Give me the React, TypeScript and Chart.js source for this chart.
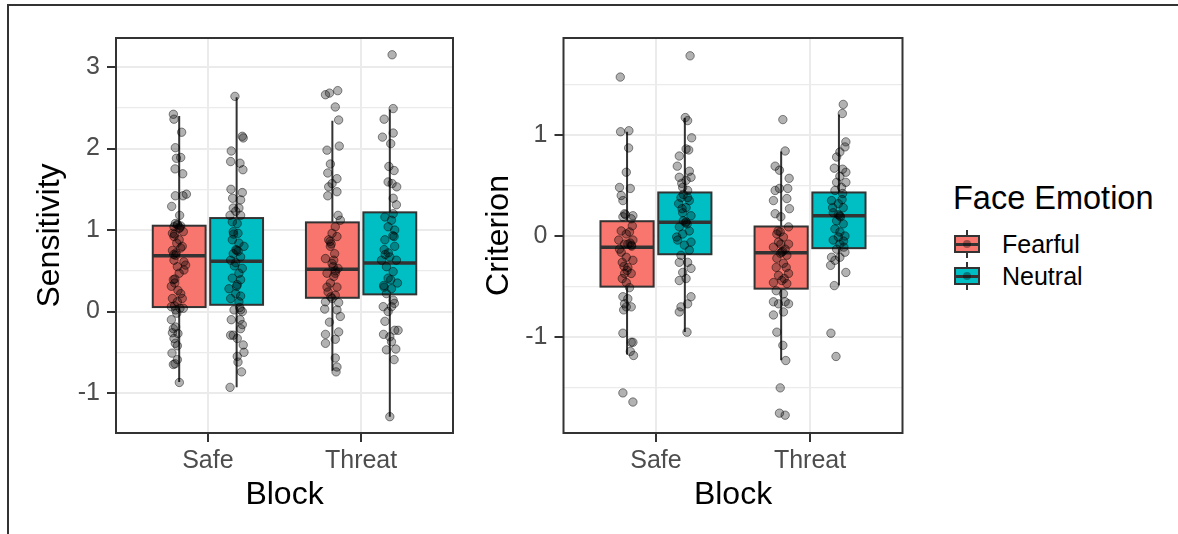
import React, { useEffect, useRef } from "react";
import { Chart, registerables } from "chart.js";

Chart.register(...registerables);

const FONT = "'Liberation Sans', Arial, Helvetica, sans-serif";

// ---------- categories / series ----------
const blocks = ["Safe", "Threat"];
const emotions = ["Fearful", "Neutral"];
const emotionColors = ["#F8766D", "#00BFC4"];
const dodgeOffsets = [-0.1875, 0.1875];
const boxWidth = 0.345;

// ---------- tick values ----------
const sensitivityTicks = [-1, -0.5, 0, 0.5, 1, 1.5, 2, 2.5, 3];
const criterionTicks = [-1.5, -1, -0.5, 0, 0.5, 1, 1.5];

// ---------- box statistics [lower whisker, Q1, median, Q3, upper whisker] ----------
const sensSafeFearfulBox = [-0.865, 0.055, 0.685, 1.053, 2.4];
const sensSafeNeutralBox = [-0.93, 0.083, 0.616, 1.147, 2.628];
const sensThreatFearfulBox = [-0.726, 0.169, 0.518, 1.094, 2.34];
const sensThreatNeutralBox = [-1.29, 0.211, 0.595, 1.217, 2.48];
const critSafeFearfulBox = [-1.17, -0.5, -0.11, 0.146, 1.03];
const critSafeNeutralBox = [-0.948, -0.18, 0.136, 0.43, 1.165];
const critThreatFearfulBox = [-1.227, -0.52, -0.166, 0.094, 0.835];
const critThreatNeutralBox = [-0.49, -0.12, 0.2, 0.43, 1.2];

// ---------- individual observations (values) and their horizontal jitter ----------
const sensSafeFearful = [2.42, 2.36, 2.2, 2.01, 1.88, 1.89, 1.75, 1.69, 1.42, 1.42, 1.44, 1.29, 1.18, 1.08, 1.07, 1.05, 1.04, 1.02, 0.96, 0.92, 0.88, 0.84, 0.75, 0.78, 0.69, 0.61, 0.57, 0.55, 0.63, 0.47, 0.39, 0.35, 0.22, 0.16, 0.16, 0.12, 0.06, 0.04, 0.02, 0.04, -0.1, -0.21, -0.26, -0.27, -0.33, -0.39, -0.42, -0.51, -0.59, -0.65, -0.64, -0.87, 0.8, 0.51, 0.31, 0.26, 0.98, -0.02, -0.19, 1.03, 1.06, 0.95, 0.72, 0.7, 0.4, 0.07];
const sensSafeFearfulJit = [-0.038, -0.034, 0.016, -0.025, -0.018, 0.01, -0.027, 0.023, -0.025, 0.025, 0.047, -0.049, 0.003, -0.025, -0.012, 0.01, -0.034, 0.0, -0.044, -0.034, 0.0, -0.016, -0.044, 0.01, -0.023, 0.031, 0.042, -0.012, -0.034, 0.0, -0.038, -0.029, 0.01, 0.02, -0.044, -0.012, -0.051, 0.005, -0.023, 0.027, -0.051, -0.038, -0.044, -0.008, -0.034, -0.025, -0.012, -0.047, -0.012, -0.038, -0.027, 0.001, 0.02, 0.031, -0.051, -0.008, 0.027, -0.016, -0.023, 0.005, -0.01, -0.03, -0.02, -0.035, -0.028, -0.03];

const sensSafeNeutral = [2.64, 2.15, 2.13, 1.97, 1.84, 1.82, 1.74, 1.5, 1.46, 1.39, 1.37, 1.27, 1.27, 1.23, 1.18, 1.18, 1.1, 1.08, 0.98, 0.96, 0.88, 0.84, 0.75, 0.8, 0.71, 0.67, 0.63, 0.6, 0.53, 0.47, 0.41, 0.39, 0.33, 0.28, 0.22, 0.19, 0.16, 0.12, 0.02, 0.02, 0.0, -0.1, -0.1, -0.16, -0.21, -0.29, -0.29, -0.33, -0.41, -0.5, -0.55, -0.62, -0.74, -0.93, 0.76, 0.74, 0.95, 0.31, 0.56, 0.05];
const sensSafeNeutralJit = [-0.011, 0.037, 0.043, -0.035, -0.039, 0.022, 0.041, -0.037, 0.037, -0.026, 0.026, -0.022, 0.015, -0.006, -0.043, 0.026, -0.028, 0.004, -0.022, 0.009, -0.028, 0.015, 0.0, 0.048, -0.022, 0.026, -0.039, -0.006, 0.037, 0.015, -0.028, 0.026, 0.004, -0.05, -0.006, 0.026, -0.039, 0.015, -0.017, 0.026, 0.037, -0.035, 0.022, 0.037, 0.026, -0.022, -0.039, 0.004, 0.043, 0.048, 0.004, 0.009, 0.032, -0.043, -0.005, 0.01, -0.02, 0.0, -0.015, 0.02];

const sensThreatFearful = [2.66, 2.68, 2.71, 2.51, 2.35, 2.03, 1.98, 1.81, 1.7, 1.63, 1.57, 1.53, 1.47, 1.42, 1.18, 1.12, 1.04, 0.96, 0.88, 0.92, 0.8, 0.71, 0.65, 0.59, 0.53, 0.47, 0.43, 0.35, 0.3, 0.24, 0.2, 0.16, 0.12, 0.11, 0.03, 0.02, -0.06, -0.13, -0.25, -0.28, -0.34, -0.39, -0.57, -0.68, -0.74, 0.63, 0.3, 0.47, 0.86, 0.83, 0.55, 0.5, 0.18];
const sensThreatFearfulJit = [-0.045, -0.019, 0.035, 0.019, 0.041, 0.045, -0.035, -0.013, -0.03, 0.03, -0.002, -0.024, 0.03, -0.03, 0.037, 0.052, 0.019, -0.002, -0.024, 0.03, -0.013, 0.015, -0.045, -0.002, 0.037, -0.035, 0.009, -0.013, 0.03, -0.028, 0.019, -0.002, -0.045, 0.041, -0.05, 0.03, 0.052, -0.019, 0.041, -0.045, 0.019, -0.045, 0.019, 0.03, 0.024, 0.009, -0.035, 0.019, -0.015, -0.008, 0.005, 0.02, -0.01];

const sensThreatNeutral = [3.15, 2.49, 2.36, 2.19, 2.14, 2.06, 1.78, 1.73, 1.59, 1.57, 1.53, 1.39, 1.31, 1.16, 1.12, 0.92, 0.76, 0.8, 0.67, 0.55, 0.49, 0.3, 0.28, 0.35, 0.41, 0.63, 0.63, 0.06, 0.06, -0.12, -0.23, -0.23, -0.28, -0.31, -0.37, -0.47, -0.46, -0.59, -1.29, 1.04, 1.0, 0.88, 0.39, 0.22, 0.14, 0.0, 1.2, 0.93, 0.7, 0.72, 0.32, 0.1];
const sensThreatNeutralJit = [0.015, 0.022, -0.037, 0.022, -0.048, 0.006, -0.006, 0.028, -0.011, 0.015, 0.045, 0.022, 0.043, -0.032, 0.011, 0.028, -0.037, 0.032, 0.0, -0.022, 0.022, -0.037, 0.011, 0.05, -0.011, -0.054, 0.043, -0.043, 0.011, -0.032, 0.032, 0.054, -0.041, 0.0, 0.011, -0.022, 0.039, 0.028, 0.0, -0.011, 0.032, -0.032, 0.006, -0.022, 0.022, -0.011, 0.022, 0.02, -0.03, -0.01, -0.04, 0.03];

const critSafeFearful = [1.57, 1.03, 1.04, 0.87, 0.63, 0.48, 0.47, 0.4, 0.35, 0.22, 0.2, 0.19, 0.1, 0.05, 0.02, -0.04, -0.08, -0.09, -0.04, -0.16, -0.21, -0.26, -0.31, -0.37, -0.37, -0.42, -0.46, -0.51, -0.6, -0.62, -0.67, -0.7, -0.7, -0.73, -0.96, -1.05, -1.05, -1.14, -1.18, -1.55, -1.64, 0.04, -0.13, -0.24, -0.34, 0.17, -0.08, -0.07, -0.1, 0.21, -0.3];
const critSafeFearfulJit = [-0.044, -0.042, 0.012, 0.01, -0.005, -0.049, 0.021, -0.038, -0.027, -0.016, 0.038, -0.027, 0.034, -0.038, -0.005, -0.054, -0.016, 0.027, 0.038, -0.038, -0.005, -0.031, 0.005, -0.016, 0.027, -0.031, -0.005, 0.016, -0.027, 0.005, -0.016, -0.005, 0.027, -0.022, -0.027, 0.027, 0.038, 0.021, 0.042, -0.027, 0.038, 0.016, -0.049, 0.038, 0.0, 0.027, 0.005, 0.02, 0.03, -0.01, -0.02];

const critSafeNeutral = [1.78, 1.17, 1.14, 0.97, 0.86, 0.79, 0.85, 0.69, 0.64, 0.58, 0.55, 0.58, 0.48, 0.45, 0.38, 0.35, 0.32, 0.28, 0.23, 0.2, 0.14, 0.09, 0.05, 0.02, -0.04, -0.06, -0.09, -0.14, -0.19, -0.26, -0.26, -0.32, -0.36, -0.44, -0.42, -0.6, -0.67, -0.7, -0.75, -0.95, 0.27, 0.38, -0.01, 0.15, 0.41, 0.13, 0.12, 0.52];
const critSafeNeutralJit = [0.034, 0.003, 0.018, 0.044, 0.008, -0.036, 0.025, -0.049, 0.029, -0.036, 0.008, 0.04, -0.014, 0.018, -0.025, 0.029, -0.04, 0.008, -0.014, 0.04, 0.008, -0.036, 0.029, -0.014, -0.047, 0.04, -0.003, 0.029, -0.025, -0.036, 0.018, 0.04, -0.014, -0.036, 0.008, 0.04, 0.018, -0.025, -0.036, 0.014, -0.018, 0.018, -0.053, -0.01, -0.01, 0.005, 0.015, -0.02];

const critThreatFearful = [1.15, 0.84, 0.69, 0.65, 0.57, 0.45, 0.47, 0.47, 0.35, 0.37, 0.27, 0.22, 0.19, 0.09, 0.02, -0.01, -0.06, -0.08, -0.11, -0.16, -0.19, -0.22, -0.27, -0.37, -0.39, -0.44, -0.46, -0.47, -0.54, -0.57, -0.65, -0.67, -0.65, -0.67, -0.75, -0.78, -0.95, -1.08, -1.23, -1.5, -1.75, -1.77, 0.04, -0.13, -0.31, -0.08, -0.31, -0.15, -0.17, 0.05, -0.42];
const critThreatFearfulJit = [0.011, 0.026, -0.039, -0.011, 0.052, -0.039, -0.011, 0.043, -0.05, 0.037, 0.054, -0.039, -0.002, 0.048, -0.028, 0.015, -0.017, 0.048, -0.05, 0.004, 0.037, -0.028, 0.015, 0.048, -0.017, 0.004, -0.05, 0.037, -0.032, 0.015, -0.05, -0.017, 0.026, 0.048, 0.015, -0.05, -0.028, 0.011, 0.03, -0.006, -0.011, 0.026, -0.006, 0.026, -0.032, -0.002, 0.033, 0.01, -0.005, -0.02, 0.02];

const critThreatNeutral = [1.3, 1.21, 0.93, 0.88, 0.83, 0.78, 0.67, 0.66, 0.63, 0.59, 0.53, 0.53, 0.45, 0.42, 0.35, 0.32, 0.28, 0.23, 0.2, 0.15, 0.12, 0.07, 0.04, 0.0, -0.04, -0.08, -0.13, -0.16, -0.21, -0.21, -0.24, -0.29, -0.36, -0.49, -0.96, -1.19, 0.48, 0.28, -0.01, -0.11, 0.21, 0.19, 0.36, -0.05];
const critThreatNeutralJit = [0.028, 0.022, 0.045, 0.039, 0.006, -0.015, -0.03, 0.024, 0.045, 0.006, -0.015, 0.045, -0.026, 0.024, -0.048, -0.004, 0.028, -0.037, 0.006, -0.015, 0.028, -0.026, 0.006, 0.039, -0.037, 0.006, -0.015, 0.039, -0.048, 0.006, -0.026, -0.054, 0.045, -0.03, -0.052, -0.019, 0.017, -0.041, -0.004, 0.032, -0.004, 0.01, 0.02, 0.03];

// ---------- helpers ----------
type BoxSpec = { pos: number; stats: number[]; color: string };

const boxPos = (blockIdx: number, emoIdx: number) => blockIdx + 1 + dodgeOffsets[emoIdx];

function toPoints(vals: number[], jit: number[], blockIdx: number, emoIdx: number) {
  return vals.map((v, i) => ({ x: boxPos(blockIdx, emoIdx) + (jit[i] ?? 0), y: v }));
}

function makeBoxPlugin(boxes: BoxSpec[]) {
  return {
    id: "ggBoxes",
    beforeDatasetsDraw(chart: any) {
      const { ctx, scales } = chart;
      const xs = scales.x;
      const ys = scales.y;
      ctx.save();
      boxes.forEach((b) => {
        const cx = xs.getPixelForValue(b.pos);
        const l = xs.getPixelForValue(b.pos - boxWidth / 2);
        const r = xs.getPixelForValue(b.pos + boxWidth / 2);
        const [lo, q1, med, q3, hi] = b.stats.map((v) => ys.getPixelForValue(v));
        ctx.strokeStyle = "#333333";
        ctx.lineWidth = 2;
        ctx.beginPath();
        ctx.moveTo(cx, hi);
        ctx.lineTo(cx, q3);
        ctx.moveTo(cx, q1);
        ctx.lineTo(cx, lo);
        ctx.stroke();
        ctx.fillStyle = b.color;
        ctx.fillRect(l, q3, r - l, q1 - q3);
        ctx.strokeRect(l, q3, r - l, q1 - q3);
        ctx.lineWidth = 3.5;
        ctx.beginPath();
        ctx.moveTo(l, med);
        ctx.lineTo(r, med);
        ctx.stroke();
      });
      ctx.restore();
    },
    afterDraw(chart: any) {
      const { ctx, chartArea: a } = chart;
      ctx.save();
      ctx.strokeStyle = "#333333";
      ctx.lineWidth = 2;
      ctx.strokeRect(a.left, a.top, a.right - a.left, a.bottom - a.top);
      ctx.restore();
    },
  };
}

type PanelProps = {
  left: number;
  width: number;
  yTitle: string;
  yMin: number;
  yMax: number;
  yTicks: number[];
  yAxisWidth: number;
  yTitlePad: number;
  padRight: number;
  boxes: BoxSpec[];
  series: { x: number; y: number }[][];
};

function Panel(p: PanelProps) {
  const ref = useRef<HTMLCanvasElement>(null);
  useEffect(() => {
    if (!ref.current) return;
    const isMajor = (v: number) => Math.abs(v - Math.round(v)) < 1e-9;
    const chart = new Chart(ref.current, {
      type: "scatter",
      data: {
        datasets: p.series.map((pts, i) => ({
          label: "s" + i,
          data: pts,
          pointRadius: 4.2,
          pointHoverRadius: 4.2,
          backgroundColor: "rgba(0,0,0,0.3)",
          borderColor: "rgba(0,0,0,0.45)",
          borderWidth: 1,
        })),
      },
      options: {
        responsive: false,
        animation: false,
        events: [],
        layout: { padding: { top: 38, right: p.padRight, bottom: 0, left: 0 } },
        plugins: { legend: { display: false }, tooltip: { enabled: false } },
        scales: {
          x: {
            type: "linear",
            min: 0.4,
            max: 2.6,
            afterBuildTicks: (s: any) => {
              s.ticks = blocks.map((_, i) => ({ value: i + 1 }));
            },
            afterFit: (s: any) => {
              s.height = 101;
            },
            ticks: {
              autoSkip: false,
              maxRotation: 0,
              padding: 4,
              color: "#4D4D4D",
              font: { family: FONT, size: 25 },
              callback: (_v: any, i: number) => blocks[i],
            },
            grid: {
              color: "#EBEBEB",
              lineWidth: 2,
              tickColor: "#333333",
              tickLength: 9,
              tickWidth: 2,
            },
            border: { display: false },
            title: {
              display: true,
              text: "Block",
              color: "#000000",
              font: { family: FONT, size: 32 },
              padding: { top: 0, bottom: 20 },
            },
          },
          y: {
            type: "linear",
            min: p.yMin,
            max: p.yMax,
            afterBuildTicks: (s: any) => {
              s.ticks = p.yTicks.map((v) => ({ value: v }));
            },
            afterFit: (s: any) => {
              s.width = p.yAxisWidth;
            },
            ticks: {
              autoSkip: false,
              padding: 7,
              color: "#4D4D4D",
              font: { family: FONT, size: 25 },
              callback: (v: any) => (isMajor(Number(v)) ? String(Math.round(Number(v))) : ""),
            },
            grid: {
              color: "#EBEBEB",
              lineWidth: (c: any) => (c.tick && isMajor(c.tick.value) ? 2 : 1.2),
              tickColor: (c: any) => (c.tick && isMajor(c.tick.value) ? "#333333" : "rgba(0,0,0,0)"),
              tickLength: 9,
              tickWidth: 2,
            },
            border: { display: false },
            title: {
              display: true,
              text: p.yTitle,
              color: "#000000",
              font: { family: FONT, size: 32 },
              padding: { top: p.yTitlePad, bottom: 0 },
            },
          },
        },
      },
      plugins: [makeBoxPlugin(p.boxes)],
    } as any);
    return () => chart.destroy();
  }, []);
  return (
    <div style={{ position: "absolute", left: p.left, top: 0, width: p.width, height: 534 }}>
      <canvas ref={ref} width={p.width} height={534} style={{ display: "block" }} />
    </div>
  );
}

function LegendKey({ color, top }: { color: string; top: number }) {
  return (
    <div style={{ position: "absolute", left: 953, top, width: 28, height: 32 }}>
      <div style={{ position: "absolute", left: 13, top: 2, width: 2, height: 28, background: "#333" }} />
      <div
        style={{
          position: "absolute",
          left: 1,
          top: 7,
          width: 26,
          height: 18,
          boxSizing: "border-box",
          background: color,
          border: "2px solid #333",
        }}
      />
      <div style={{ position: "absolute", left: 1, top: 14.5, width: 26, height: 3.5, background: "#333" }} />
      <div
        style={{
          position: "absolute",
          left: 10,
          top: 12,
          width: 8,
          height: 8,
          borderRadius: "50%",
          background: "rgba(0,0,0,0.35)",
        }}
      />
    </div>
  );
}

export default function App() {
  const sensBoxes: BoxSpec[] = [
    { pos: boxPos(0, 0), stats: sensSafeFearfulBox, color: emotionColors[0] },
    { pos: boxPos(0, 1), stats: sensSafeNeutralBox, color: emotionColors[1] },
    { pos: boxPos(1, 0), stats: sensThreatFearfulBox, color: emotionColors[0] },
    { pos: boxPos(1, 1), stats: sensThreatNeutralBox, color: emotionColors[1] },
  ];
  const critBoxes: BoxSpec[] = [
    { pos: boxPos(0, 0), stats: critSafeFearfulBox, color: emotionColors[0] },
    { pos: boxPos(0, 1), stats: critSafeNeutralBox, color: emotionColors[1] },
    { pos: boxPos(1, 0), stats: critThreatFearfulBox, color: emotionColors[0] },
    { pos: boxPos(1, 1), stats: critThreatNeutralBox, color: emotionColors[1] },
  ];
  const sensSeries = [
    toPoints(sensSafeFearful, sensSafeFearfulJit, 0, 0),
    toPoints(sensSafeNeutral, sensSafeNeutralJit, 0, 1),
    toPoints(sensThreatFearful, sensThreatFearfulJit, 1, 0),
    toPoints(sensThreatNeutral, sensThreatNeutralJit, 1, 1),
  ];
  const critSeries = [
    toPoints(critSafeFearful, critSafeFearfulJit, 0, 0),
    toPoints(critSafeNeutral, critSafeNeutralJit, 0, 1),
    toPoints(critThreatFearful, critThreatFearfulJit, 1, 0),
    toPoints(critThreatNeutral, critThreatNeutralJit, 1, 1),
  ];

  return (
    <div
      style={{
        position: "absolute",
        left: 0,
        top: 0,
        width: 1178,
        height: 534,
        background: "#ffffff",
        overflow: "hidden",
        fontFamily: FONT,
      }}
    >
      <div
        style={{
          position: "absolute",
          left: 7,
          top: 4,
          right: 0,
          bottom: 0,
          borderTop: "2px solid #333",
          borderLeft: "2px solid #333",
        }}
      />
      <Panel
        left={0}
        width={470}
        yTitle="Sensitivity"
        yMin={-1.49}
        yMax={3.356}
        yTicks={sensitivityTicks}
        yAxisWidth={116}
        yTitlePad={31}
        padRight={17}
        boxes={sensBoxes}
        series={sensSeries}
      />
      <Panel
        left={470}
        width={440}
        yTitle="Criterion"
        yMin={-1.946}
        yMax={1.956}
        yTicks={criterionTicks}
        yAxisWidth={93.5}
        yTitlePad={10}
        padRight={7.5}
        boxes={critBoxes}
        series={critSeries}
      />
      <div
        style={{
          position: "absolute",
          left: 953,
          top: 182,
          fontSize: 32.5,
          lineHeight: "32px",
          color: "#000",
          whiteSpace: "nowrap",
        }}
      >
        Face Emotion
      </div>
      {emotions.map((e, i) => (
        <React.Fragment key={e}>
          <LegendKey color={emotionColors[i]} top={228 + i * 32} />
          <div
            style={{
              position: "absolute",
              left: 1002,
              top: 228 + i * 32,
              fontSize: 25,
              lineHeight: "32px",
              color: "#000",
              whiteSpace: "nowrap",
            }}
          >
            {e}
          </div>
        </React.Fragment>
      ))}
    </div>
  );
}
